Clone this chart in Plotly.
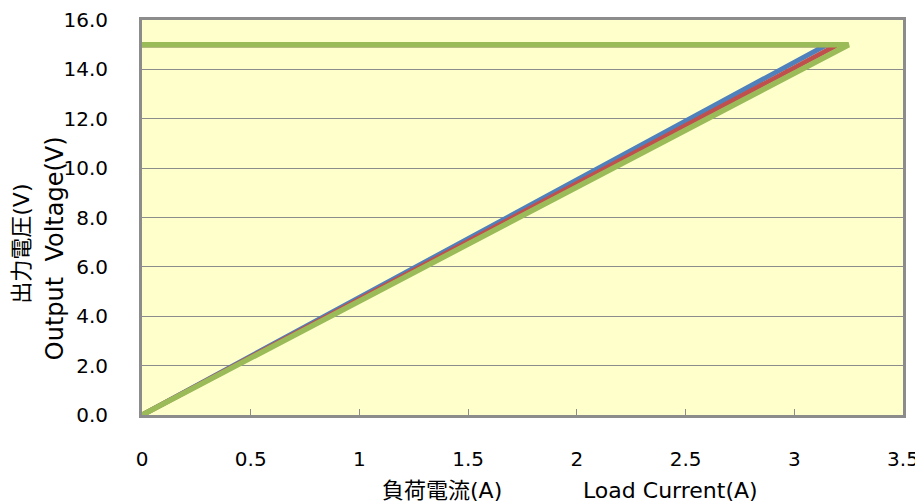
import plotly.graph_objects as go

# load current (A) and output voltage (V) for each unit: 15V plateau, then foldback to origin
series_names = ["Unit 1", "Unit 2", "Unit 3"]
series_colors = ["#4F81BD", "#C0504D", "#9BBB59"]
current_1 = [0, 3.15, 0]
current_2 = [0, 3.20, 0]
current_3 = [0, 3.25, 0]
voltage = [15.0, 15.0, 0.0]

y_ticks = [0, 2, 4, 6, 8, 10, 12, 14, 16]
y_labels = ["0.0", "2.0", "4.0", "6.0", "8.0", "10.0", "12.0", "14.0", "16.0"]
x_ticks = [0, 0.5, 1, 1.5, 2, 2.5, 3, 3.5]
x_labels = ["0", "0.5", "1", "1.5", "2", "2.5", "3", "3.5"]

font_family = "DejaVu Sans, Noto Sans CJK JP, sans-serif"

fig = go.Figure()
for name, xs, color, w in zip(series_names, [current_1, current_2, current_3], series_colors, [5, 5, 5.5]):
    fig.add_trace(go.Scatter(x=xs, y=voltage, mode="lines", name=name,
                             line=dict(color=color, width=w)))

# page body adds an 8px margin, so the figure is sized 8px smaller
fig.update_layout(
    width=915, height=496,
    margin=dict(l=134, r=20, t=12, b=89),
    paper_bgcolor="white",
    plot_bgcolor="#FFFFCC",
    showlegend=False,
    font=dict(family=font_family, size=20, color="black"),
    xaxis=dict(range=[0, 3.5], tickvals=x_ticks, ticktext=x_labels,
               showgrid=False, zeroline=False, automargin=False,
               ticklabeloverflow="allow",
               showline=True, linecolor="#8C8C8C", linewidth=3, mirror=True,
               ticks="inside", ticklen=6, tickcolor="#8C8C8C", tickwidth=1,
               ticklabelstandoff=24),
    yaxis=dict(range=[0, 16], tickvals=y_ticks, ticktext=y_labels,
               showgrid=True, gridcolor="#8C8C8C", gridwidth=1, zeroline=False,
               automargin=False, ticklabeloverflow="allow",
               showline=True, linecolor="#8C8C8C", linewidth=3, mirror=True,
               ticks="", ticklabelstandoff=27),
    annotations=[
        dict(text="出力電圧(V)", xref="paper", yref="paper", x=-0.158, y=0.433,
             xanchor="center", yanchor="middle",
             textangle=-90, showarrow=False, font=dict(size=22)),
        dict(text="Output  Voltage(V)", xref="paper", yref="paper", x=-0.114, y=0.423,
             xanchor="center", yanchor="middle",
             textangle=-90, showarrow=False, font=dict(size=24)),
        dict(text="負荷電流(A)", xref="paper", yref="paper",
             x=0.394, y=-0.191, xanchor="center", yanchor="middle",
             showarrow=False, font=dict(size=22)),
        dict(text="Load Current(A)", xref="paper", yref="paper",
             x=0.695, y=-0.191, xanchor="center", yanchor="middle",
             showarrow=False, font=dict(size=22)),
    ],
)

fig.write_html("out.html")
